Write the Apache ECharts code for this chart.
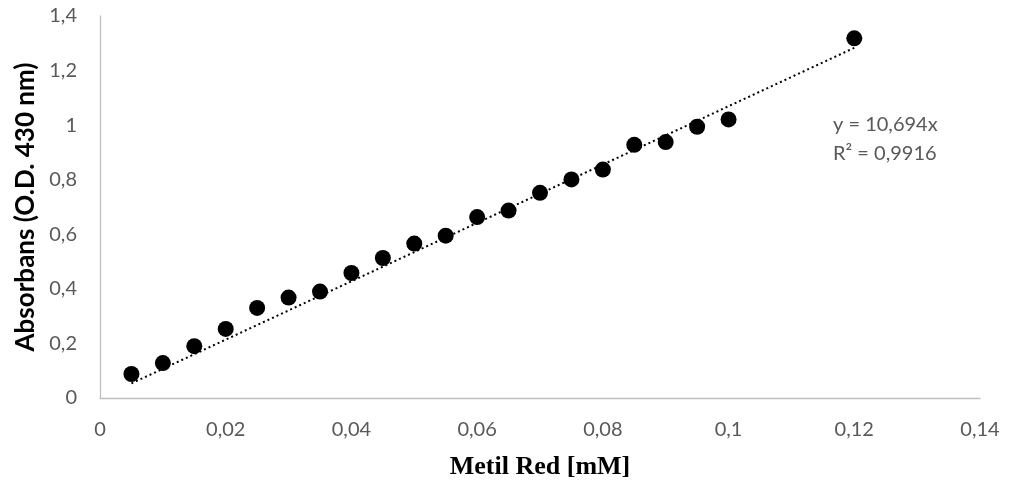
<!DOCTYPE html>
<html><head><meta charset="utf-8">
<script src="https://cdn.jsdelivr.net/npm/echarts@6/dist/echarts.min.js"></script>
<style>html,body{margin:0;padding:0;background:#fff}#c{width:1016px;height:488px}</style>
</head><body><div id="c"></div>
<script>
const concentrations = [0.005,0.01,0.015,0.02,0.025,0.03,0.035,0.04,0.045,0.05,0.055,0.06,0.065,0.07,0.075,0.08,0.085,0.09,0.095,0.1,0.12];
const absorbance = [0.088,0.128,0.190,0.253,0.330,0.368,0.390,0.458,0.513,0.566,0.595,0.663,0.687,0.752,0.801,0.837,0.928,0.938,0.994,1.021,1.318];
const trendX = [0.005, 0.12];
const trendY = [0.0535, 1.2833];
const equationText = ['y = 10,694x', 'R² = 0,9916'];
const xTicks = [0,0.02,0.04,0.06,0.08,0.1,0.12,0.14];
const yTicks = [0,0.2,0.4,0.6,0.8,1,1.2,1.4];

const fmt = v => String(+v.toFixed(3)).replace('.', ',');
const chart = echarts.init(document.getElementById('c'));
chart.setOption({
  animation:false,
  grid:{left:100,right:36,top:16,bottom:90},
  xAxis:{type:'value',min:xTicks[0],max:xTicks[xTicks.length-1],interval:0.02,
    name:'Metil Red [mM]',nameLocation:'middle',nameGap:56,
    nameTextStyle:{fontFamily:'Liberation Serif',fontWeight:'bold',fontSize:26,color:'#000'},
    axisLine:{show:true,lineStyle:{color:'#bfbfbf',width:1.3}},axisTick:{show:false},
    splitLine:{show:false},
    axisLabel:{formatter:fmt,color:'#595959',fontFamily:'Lato',fontSize:20,margin:22}},
  yAxis:{type:'value',min:yTicks[0],max:yTicks[yTicks.length-1],interval:0.2,
    name:'Absorbans (O.D. 430 nm)',nameLocation:'middle',nameGap:61,nameRotate:90,
    nameTextStyle:{fontFamily:'Lato',fontWeight:'bold',fontSize:26,color:'#000'},
    axisLine:{show:true,lineStyle:{color:'#bfbfbf',width:1.3}},axisTick:{show:false},
    splitLine:{show:false},
    axisLabel:{formatter:fmt,color:'#595959',fontFamily:'Lato',fontSize:20,margin:23}},
  series:[
    {type:'line',data:trendX.map((x,i)=>[x,trendY[i]]),symbol:'none',
      lineStyle:{color:'#000',width:2,type:[2,3]},z:1},
    {type:'scatter',data:concentrations.map((x,i)=>[x,absorbance[i]]),
      symbol:'circle',symbolSize:16,itemStyle:{color:'#000',opacity:1},z:2}
  ],
  graphic:[
    {type:'text',left:833,top:115,style:{text:equationText[0],fill:'#595959',font:'20px Lato'}},
    {type:'text',left:833,top:144,style:{text:equationText[1],fill:'#595959',font:'20px Lato'}}
  ]
});
</script></body></html>
